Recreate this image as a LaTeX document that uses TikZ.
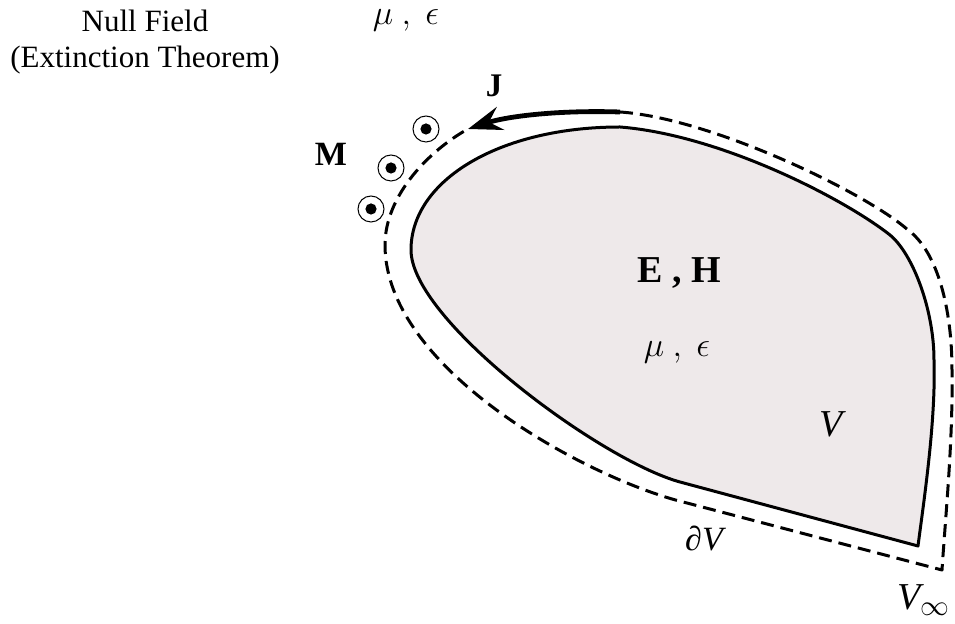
\documentclass[tikz,border=0pt]{standalone}
\usepackage{fontspec}
\setmainfont{Liberation Serif}
\usetikzlibrary{arrows.meta}
\definecolor{ink}{HTML}{000000}
\definecolor{regionfill}{HTML}{EEE9EA}

\begin{document}
\begin{tikzpicture}[x=0.5pt,y=-0.5pt,
  surface/.style={draw=ink,line width=1.5pt,line join=round},
  contour/.style={draw=ink,line width=1.5pt,line join=round,dash pattern=on 6.5pt off 3.5pt},
  current/.style={draw=ink,line width=2.4pt,-{Stealth[length=17pt,width=12pt,inset=6pt]}},
  odot/.style={circle,draw=ink,line width=0.5pt,minimum size=13pt,inner sep=0pt,
    path picture={\fill[ink] (path picture bounding box.center) circle (2.8pt);}},
  lbl/.style={inner sep=0pt,text=ink}]
  \useasboundingbox (0,0) rectangle (955,624);

  % region V and its surface
  \path[surface,fill=regionfill] (918,546) -- (680,482)
    .. controls (600,460) and (411,320) .. (411,250)
    .. controls (411,180) and (500,127) .. (620,127)
    .. controls (720,135) and (843,198) .. (890,235)
    .. controls (913,254) and (934,310) .. (934,360)
    .. controls (936,420) and (924,500) .. (918,546) -- cycle;

  \coordinate (Jtail) at (620,112);
  \coordinate (Jtip) at (468,129);

  % contour just outside the surface
  \draw[contour] (Jtail)
    .. controls (710,118) and (865,192) .. (908,230)
    .. controls (938,252) and (952,310) .. (952,370)
    .. controls (953,440) and (946,510) .. (942,570)
    -- (687,503)
    .. controls (590,480) and (385,370) .. (385,245)
    .. controls (385,195) and (430,150) .. (Jtip);

  \draw[current] (Jtail) .. controls (560,110) and (508,116) .. (Jtip);

  \node[odot] (m1) at (426,129) {};
  \node[odot] (m2) at (391,168) {};
  \node[odot] (m3) at (371,209) {};

  \node[lbl,align=center,font=\fontsize{15.5}{18}\selectfont] (nullfield) at (145,42)
    {Null Field\\(Extinction Theorem)};
  \node[lbl,font=\fontsize{17}{20}\selectfont] (outmedium) at (406,20) {$\mu\ ,\ \epsilon$};
  \node[lbl,font=\fontsize{16.5}{19}\selectfont\bfseries] (J) at (494,86) {J};
  \node[lbl,font=\fontsize{17}{20}\selectfont\bfseries] (M) at (331,154) {M};
  \node[lbl,font=\fontsize{19}{22}\selectfont\bfseries] (fields) at (679,273) {E , H};
  \node[lbl,font=\fontsize{17}{20}\selectfont] (inmedium) at (677,352) {$\mu\ ,\ \epsilon$};
  \node[lbl,font=\fontsize{19}{22}\selectfont\itshape] (vol) at (831,424) {V};
  \node[lbl,font=\fontsize{17}{20}\selectfont\itshape] (bnd) at (704,539) {∂V};
  \node[lbl,font=\fontsize{19}{22}\selectfont\itshape] (vinf) at (924,600) {V$_\infty$};
\end{tikzpicture}
\end{document}
